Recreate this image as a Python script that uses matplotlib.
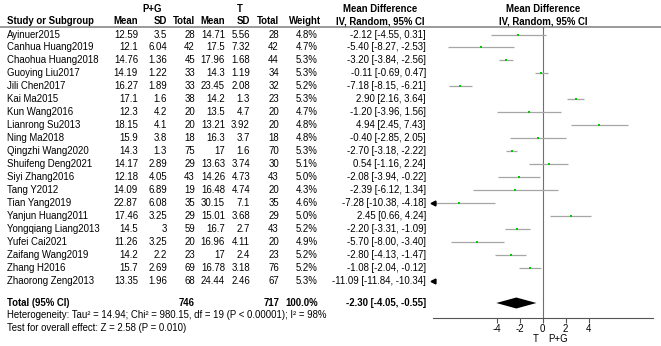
import matplotlib
matplotlib.use("Agg")
import matplotlib.pyplot as plt

plt.rcParams['font.family'] = ['Liberation Sans', 'DejaVu Sans']

studies = ["Ayinuer2015", "Canhua Huang2019", "Chaohua Huang2018", "Guoying Liu2017",
           "Jili Chen2017", "Kai Ma2015", "Kun Wang2016", "Lianrong Su2013", "Ning Ma2018",
           "Qingzhi Wang2020", "Shuifeng Deng2021", "Siyi Zhang2016", "Tang Y2012",
           "Tian Yang2019", "Yanjun Huang2011", "Yongqiang Liang2013", "Yufei Cai2021",
           "Zaifang Wang2019", "Zhang H2016", "Zhaorong Zeng2013"]
pg_mean = ["12.59", "12.1", "14.76", "14.19", "16.27", "17.1", "12.3", "18.15", "15.9", "14.3",
           "14.17", "12.18", "14.09", "22.87", "17.46", "14.5", "11.26", "14.2", "15.7", "13.35"]
pg_sd = ["3.5", "6.04", "1.36", "1.22", "1.89", "1.6", "4.2", "4.1", "3.8", "1.3",
         "2.89", "4.05", "6.89", "6.08", "3.25", "3", "3.25", "2.2", "2.69", "1.96"]
pg_n = [28, 42, 45, 33, 33, 38, 20, 20, 18, 75, 29, 43, 19, 35, 29, 59, 20, 23, 69, 68]
t_mean = ["14.71", "17.5", "17.96", "14.3", "23.45", "14.2", "13.5", "13.21", "16.3", "17",
          "13.63", "14.26", "16.48", "30.15", "15.01", "16.7", "16.96", "17", "16.78", "24.44"]
t_sd = ["5.56", "7.32", "1.68", "1.19", "2.08", "1.3", "4.7", "3.92", "3.7", "1.6",
        "3.74", "4.73", "4.74", "7.1", "3.68", "2.7", "4.11", "2.4", "3.18", "2.46"]
t_n = [28, 42, 44, 34, 32, 23, 20, 20, 18, 70, 30, 43, 20, 35, 29, 43, 20, 23, 76, 67]
weight = [4.8, 4.7, 5.3, 5.3, 5.2, 5.3, 4.7, 4.8, 4.8, 5.3, 5.1, 5.0, 4.3, 4.6, 5.0, 5.2, 4.9, 5.2, 5.2, 5.3]
md = [-2.12, -5.40, -3.20, -0.11, -7.18, 2.90, -1.20, 4.94, -0.40, -2.70,
      0.54, -2.08, -2.39, -7.28, 2.45, -2.20, -5.70, -2.80, -1.08, -11.09]
ci_lo = [-4.55, -8.27, -3.84, -0.69, -8.15, 2.16, -3.96, 2.45, -2.85, -3.18,
         -1.16, -3.94, -6.12, -10.38, 0.66, -3.31, -8.00, -4.13, -2.04, -11.84]
ci_hi = [0.31, -2.53, -2.56, 0.47, -6.21, 3.64, 1.56, 7.43, 2.05, -2.22,
         2.24, -0.22, 1.34, -4.18, 4.24, -1.09, -3.40, -1.47, -0.12, -10.34]
total_pg = 746
total_t = 717
total_weight = 100.0
total_md = -2.30
total_lo = -4.05
total_hi = -0.55
heterogeneity = "Heterogeneity: Tau\u00b2 = 14.94; Chi\u00b2 = 980.15, df = 19 (P < 0.00001); I\u00b2 = 98%"
overall = "Test for overall effect: Z = 2.58 (P = 0.010)"
xticks = [-4, -2, 0, 2, 4]

W, H = 661, 346
fig = plt.figure(figsize=(W / 100, H / 100), dpi=100)
tax = fig.add_axes([0, 0, 1, 1])
tax.set_xlim(0, W)
tax.set_ylim(H, 0)
tax.axis('off')

fs = 6.9
y0 = 34.5
dy = 12.95
y_total = 303
row_y = [y0 + i * dy for i in range(len(studies))]

# column right edges
x_pgm, x_pgsd, x_pgn = 138, 167, 195
x_tm, x_tsd, x_tn = 225, 250, 279
x_w, x_md = 318, 426

# headers
tax.text(152, 9, "P+G", ha='center', va='center', fontsize=fs, fontweight='bold')
tax.text(240, 9, "T", ha='center', va='center', fontsize=fs, fontweight='bold')
tax.text(380, 9, "Mean Difference", ha='center', va='center', fontsize=fs, fontweight='bold')
tax.text(543, 9, "Mean Difference", ha='center', va='center', fontsize=fs, fontweight='bold')
hy = 21.5
tax.text(7, hy, "Study or Subgroup", ha='left', va='center', fontsize=fs, fontweight='bold')
cols = [(x_pgm, "Mean"), (x_pgsd, "SD"), (x_pgn, "Total"), (x_tm, "Mean"), (x_tsd, "SD"),
        (x_tn, "Total"), (x_w + 3, "Weight")]
for x, s in cols:
    tax.text(x, hy, s, ha='right', va='center', fontsize=fs, fontweight='bold')
tax.text(380, hy, "IV, Random, 95% CI", ha='center', va='center', fontsize=fs, fontweight='bold')
tax.text(543, hy, "IV, Random, 95% CI", ha='center', va='center', fontsize=fs, fontweight='bold')
tax.plot([0, W], [26.5, 26.5], color='#7f7f7f', lw=1.1)

for i, y in enumerate(row_y):
    tax.text(7, y, studies[i], ha='left', va='center', fontsize=fs)
    tax.text(x_pgm, y, pg_mean[i], ha='right', va='center', fontsize=fs)
    tax.text(x_pgsd, y, pg_sd[i], ha='right', va='center', fontsize=fs)
    tax.text(x_pgn, y, str(pg_n[i]), ha='right', va='center', fontsize=fs)
    tax.text(x_tm, y, t_mean[i], ha='right', va='center', fontsize=fs)
    tax.text(x_tsd, y, t_sd[i], ha='right', va='center', fontsize=fs)
    tax.text(x_tn, y, str(t_n[i]), ha='right', va='center', fontsize=fs)
    tax.text(x_w, y, f"{weight[i]:.1f}%", ha='right', va='center', fontsize=fs)
    tax.text(x_md, y, f"{md[i]:.2f} [{ci_lo[i]:.2f}, {ci_hi[i]:.2f}]", ha='right', va='center', fontsize=fs)

tax.text(7, y_total, "Total (95% CI)", ha='left', va='center', fontsize=fs, fontweight='bold')
tax.text(x_pgn, y_total, str(total_pg), ha='right', va='center', fontsize=fs, fontweight='bold')
tax.text(x_tn, y_total, str(total_t), ha='right', va='center', fontsize=fs, fontweight='bold')
tax.text(x_w, y_total, f"{total_weight:.1f}%", ha='right', va='center', fontsize=fs, fontweight='bold')
tax.text(x_md, y_total, f"{total_md:.2f} [{total_lo:.2f}, {total_hi:.2f}]", ha='right', va='center',
         fontsize=fs, fontweight='bold')
tax.text(7, 315.5, heterogeneity, ha='left', va='center', fontsize=fs)
tax.text(7, 328, overall, ha='left', va='center', fontsize=fs)

# forest plot axes
xl, xr = 432.7, 652.7
ybot, ytop = 317.5, 26.5
fax = fig.add_axes([xl / W, 1 - ybot / H, (xr - xl) / W, (ybot - ytop) / H])
fax.set_xlim(-9.6, 9.6)
fax.set_ylim(ybot, ytop)
fax.patch.set_alpha(0)
for s in ['top', 'right', 'left']:
    fax.spines[s].set_visible(False)
fax.spines['bottom'].set_color('#555555')
fax.spines['bottom'].set_linewidth(0.8)
fax.set_yticks([])
fax.set_xticks(xticks)
fax.set_xticklabels([str(t) for t in xticks], fontsize=fs)
fax.tick_params(axis='x', direction='out', length=3.5, width=0.8, color='#555555', pad=1.5)
fax.axvline(0, color='#6f6f6f', lw=0.8)

xmin, xmax = fax.get_xlim()
for i, y in enumerate(row_y):
    lo, hi = ci_lo[i], ci_hi[i]
    if hi < xmin:
        fax.plot([xmin], [y], marker='<', color='black', markersize=3.5, clip_on=False)
        continue
    left = max(lo, xmin)
    fax.plot([left, hi], [y, y], color='#a6a6a6', lw=0.9, solid_capstyle='butt')
    if lo < xmin:
        fax.plot([xmin], [y], marker='<', color='black', markersize=3.5, clip_on=False)
    fax.plot([md[i]], [y], marker='s', color='#00cc00', markersize=1.9, markeredgewidth=0)

dh = 5.5
fax.fill([total_lo, total_md, total_hi, total_md],
         [y_total, y_total - dh, y_total, y_total + dh], color='black', lw=0)

tax.text(539, 339, "T", ha='right', va='center', fontsize=fs)
tax.text(548, 339, "P+G", ha='left', va='center', fontsize=fs)

fig.savefig("out.png", dpi=100)
